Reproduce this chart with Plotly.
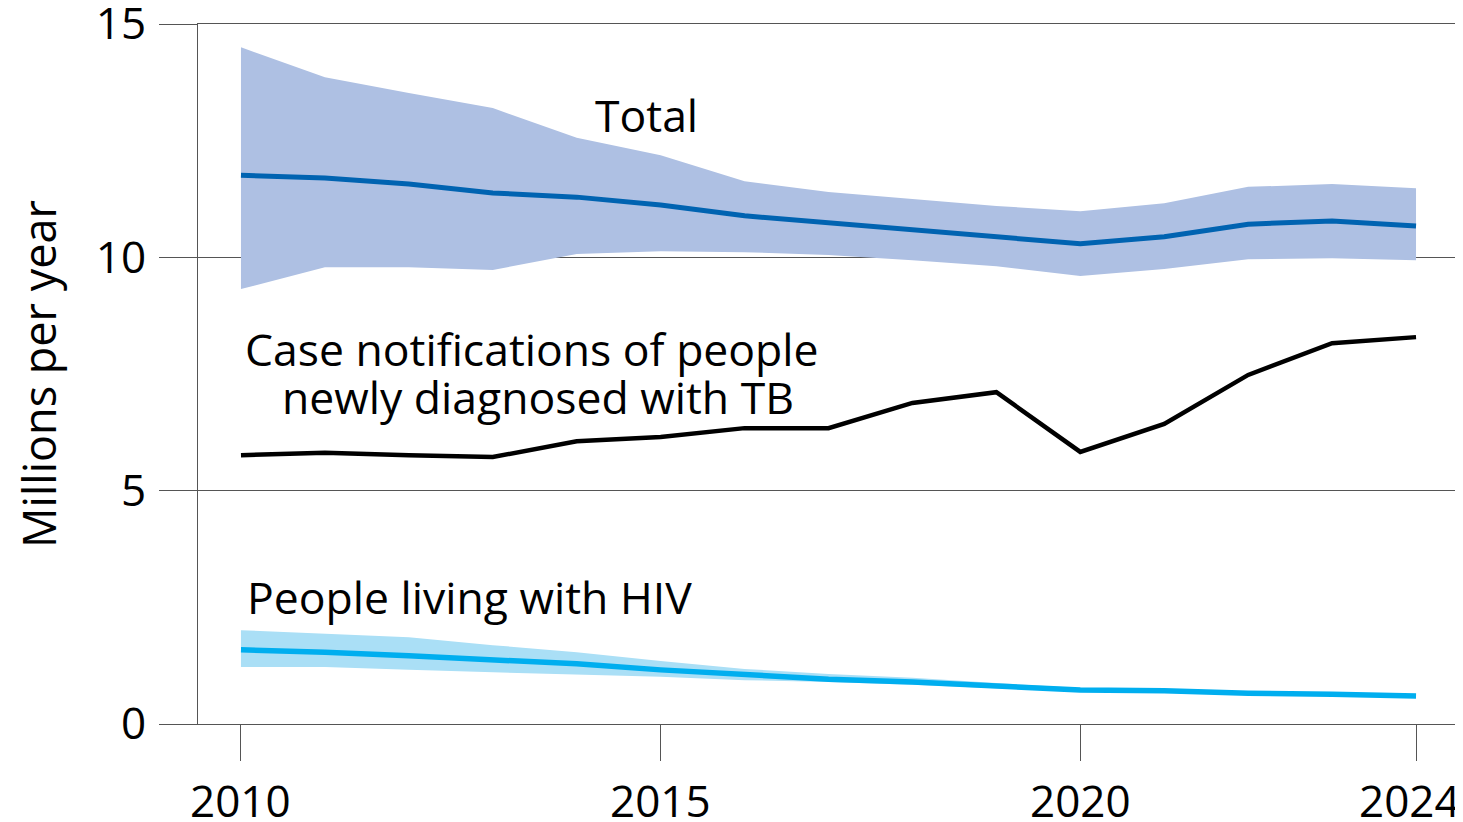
import plotly.graph_objects as go

years = list(range(2010, 2025))

total_mid = [11.76, 11.70, 11.57, 11.38, 11.29, 11.12, 10.89, 10.74, 10.59, 10.44, 10.29, 10.44, 10.71, 10.78, 10.67]
total_hi = [14.50, 13.86, 13.52, 13.20, 12.56, 12.19, 11.63, 11.40, 11.25, 11.10, 10.99, 11.16, 11.51, 11.57, 11.48]
total_lo = [9.32, 9.79, 9.79, 9.73, 10.07, 10.13, 10.11, 10.05, 9.94, 9.81, 9.60, 9.75, 9.96, 9.98, 9.94]

notified = [5.76, 5.81, 5.76, 5.72, 6.06, 6.15, 6.34, 6.34, 6.88, 7.11, 5.83, 6.43, 7.48, 8.16, 8.29]

hiv_mid = [1.59, 1.54, 1.46, 1.37, 1.29, 1.16, 1.05, 0.96, 0.90, 0.81, 0.73, 0.71, 0.66, 0.64, 0.60]
hiv_hi = [2.01, 1.93, 1.86, 1.69, 1.54, 1.35, 1.18, 1.07, 0.99, 0.88, 0.77, 0.74, 0.69, 0.67, 0.63]
hiv_lo = [1.22, 1.22, 1.16, 1.11, 1.07, 1.01, 0.94, 0.90, 0.84, 0.77, 0.69, 0.68, 0.63, 0.61, 0.57]

x_ticks = [2010, 2015, 2020, 2024]
x_labels = ["2010", "2015", "2020", "2024"]
y_ticks = [0, 5, 10, 15]
y_labels = ["0", "5", "10", "15"]

FONT = "Open Sans"
AX = "#555555"
TICK_SIZE = 44
TEXT_SIZE = 44.5

fig = go.Figure()

# Total uncertainty band
fig.add_trace(go.Scatter(x=years, y=total_hi, mode="lines", line=dict(width=0),
                         hoverinfo="skip", showlegend=False))
fig.add_trace(go.Scatter(x=years, y=total_lo, mode="lines", line=dict(width=0),
                         fill="tonexty", fillcolor="#aec0e3", hoverinfo="skip", showlegend=False))
# HIV uncertainty band
fig.add_trace(go.Scatter(x=years, y=hiv_hi, mode="lines", line=dict(width=0),
                         hoverinfo="skip", showlegend=False))
fig.add_trace(go.Scatter(x=years, y=hiv_lo, mode="lines", line=dict(width=0),
                         fill="tonexty", fillcolor="#aadff6", hoverinfo="skip", showlegend=False))

fig.add_trace(go.Scatter(x=years, y=total_mid, mode="lines",
                         line=dict(color="#0063b1", width=5), name="Total", showlegend=False))
fig.add_trace(go.Scatter(x=years, y=notified, mode="lines",
                         line=dict(color="#000000", width=4.5), name="Notified", showlegend=False))
fig.add_trace(go.Scatter(x=years, y=hiv_mid, mode="lines",
                         line=dict(color="#00aeef", width=5.5), name="HIV", showlegend=False))

tf = dict(family=FONT, size=TEXT_SIZE, color="#000")
fig.add_annotation(x=2014.83, y=13.07, text="Total", showarrow=False, font=tf)
fig.add_annotation(x=2013.47, y=8.04, text="Case notifications of people", showarrow=False, font=tf)
fig.add_annotation(x=2013.54, y=7.02, text="newly diagnosed with TB", showarrow=False, font=tf)
fig.add_annotation(x=2012.72, y=2.74, text="People living with HIV", showarrow=False, font=tf)

# x tick labels (last one nudged left to stay inside the figure, as in the reference)
for xv, lab in zip(x_ticks, x_labels):
    fig.add_annotation(x=xv, xref="x", y=0, yref="paper", yanchor="middle",
                       yshift=-76, xshift=-7 if xv == x_ticks[-1] else 0,
                       text=lab, showarrow=False, height=42,
                       font=dict(family=FONT, size=TICK_SIZE, color="#000"))

# The page body has an 8px margin, so the figure is 8px smaller and margins are offset.
fig.update_layout(
    width=1455, height=814,
    margin=dict(l=190, r=5, t=16, b=98, autoexpand=False),
    paper_bgcolor="white", plot_bgcolor="white",
    font=dict(family=FONT, size=TICK_SIZE, color="#000"),
    xaxis=dict(range=[2009.488, 2024.5], tickvals=x_ticks, ticktext=["", "", "", ""],
               ticks="outside", ticklen=36, tickwidth=1.2, tickcolor=AX,
               showline=True, linecolor=AX, linewidth=1.2, mirror=True,
               showgrid=False, zeroline=False, automargin=False),
    yaxis=dict(range=[0, 15], tickvals=y_ticks, ticktext=y_labels,
               ticks="outside", ticklen=38, tickwidth=1.2, tickcolor=AX,
               showline=True, linecolor=AX, linewidth=1.2, mirror=True,
               showgrid=True, gridcolor=AX, gridwidth=1.2, zeroline=False,
               tickfont=dict(size=TICK_SIZE), ticklabelstandoff=4,
               ticklabeloverflow="allow", automargin=False,
               title=dict(text="Millions per year", font=dict(size=45), standoff=33)),
)

fig.write_html("out.html")
